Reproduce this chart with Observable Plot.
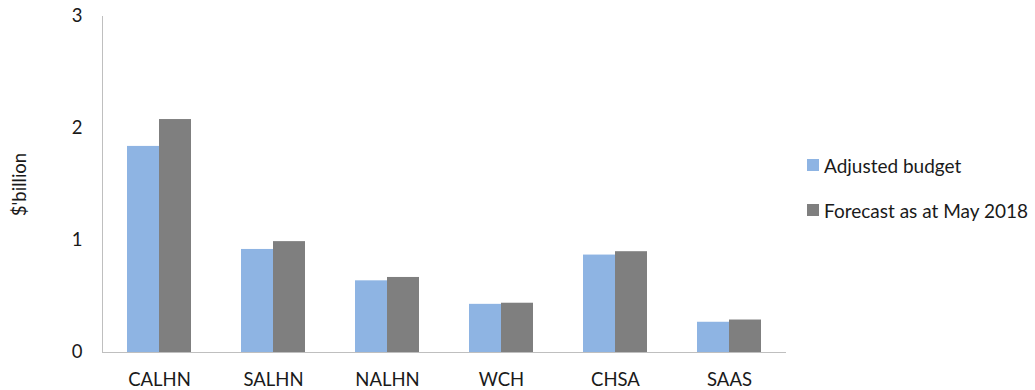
<!DOCTYPE html>
<html><head><meta charset="utf-8">
<script src="https://cdn.jsdelivr.net/npm/d3@7"></script>
<script src="https://cdn.jsdelivr.net/npm/@observablehq/plot@0.6"></script>
<style>
body{margin:0;background:#fff;font-family:Lato,sans-serif}
#wrap{position:relative;width:1035px;height:390px}
#legend{position:absolute;left:807px;top:154px;font-size:19px;color:#1a1a1a}
.item{display:flex;align-items:center;height:22px;margin-bottom:23px;white-space:nowrap}
.sw{width:12px;height:12px;margin-right:5px}
</style></head><body><div id="wrap"><div id="legend"></div></div>
<script>
const categories = ["CALHN","SALHN","NALHN","WCH","CHSA","SAAS"];
const seriesNames = ["Adjusted budget","Forecast as at May 2018"];
const adjustedBudget = [1.84,0.92,0.64,0.43,0.87,0.27];
const forecastMay2018 = [2.08,0.99,0.67,0.44,0.90,0.29];
const yTicks = [0,1,2,3];
const colors = ["#8EB4E3","#7F7F7F"];

const data = categories.flatMap((c,i)=>[
  {cat:c, series:seriesNames[0], value:adjustedBudget[i]},
  {cat:c, series:seriesNames[1], value:forecastMay2018[i]}
]);

const chart = Plot.plot({
  width:800, height:390, marginLeft:100, marginRight:12, marginTop:16, marginBottom:38,
  style:{fontFamily:"Lato, sans-serif", fontSize:"18.5px", color:"#1a1a1a", background:"transparent", overflow:"visible"},
  fx:{domain:categories, padding:0, label:null, tickSize:0, tickPadding:20},
  x:{domain:seriesNames, paddingInner:0, paddingOuter:0.738, axis:null},
  y:{domain:[0,3], ticks:yTicks, tickFormat:"d", tickSize:0, tickPadding:20, label:"$'billion", labelAnchor:"center", labelOffset:90, labelArrow:"none"},
  color:{domain:seriesNames, range:colors},
  marks:[
    Plot.barY(data,{fx:"cat", x:"series", y:"value", fill:"series"}),
    Plot.ruleY([0],{stroke:"#bfbfbf"}),
    Plot.frame({anchor:"left", facetAnchor:"left", stroke:"#bfbfbf"})
  ]
});
document.getElementById("wrap").prepend(chart);

const legend = document.getElementById("legend");
seriesNames.forEach((s,i)=>{
  const it = document.createElement("div"); it.className="item";
  const sw = document.createElement("span"); sw.className="sw"; sw.style.background=colors[i];
  const t = document.createElement("span"); t.textContent=s;
  it.append(sw,t); legend.append(it);
});
</script>
</body></html>
